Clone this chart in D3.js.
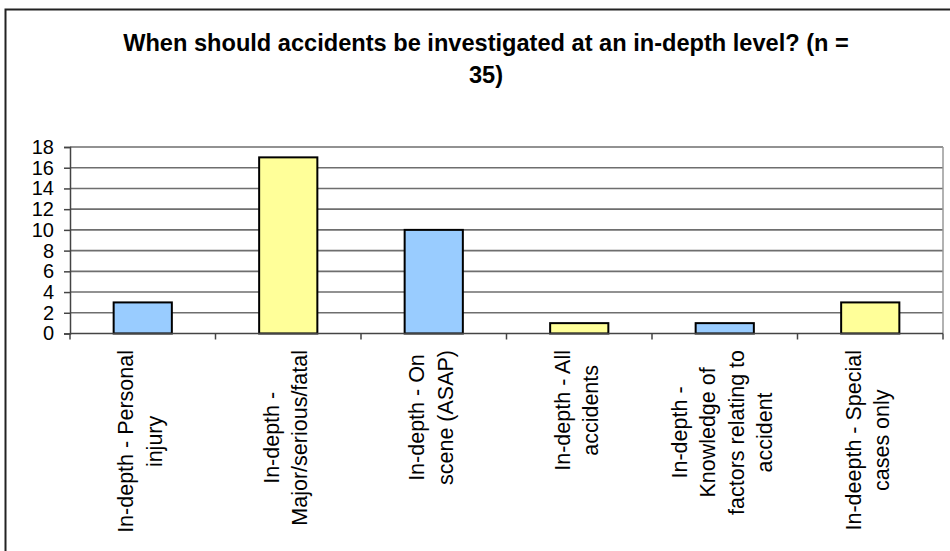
<!DOCTYPE html>
<html>
<head>
<meta charset="utf-8">
<script src="https://cdn.jsdelivr.net/npm/d3@7"></script>
<style>
  html, body { margin: 0; padding: 0; background: #fff; }
  svg { display: block; }
  text { font-family: Arial, "Liberation Sans", sans-serif; fill: #000; }
</style>
</head>
<body>
<svg id="chart" width="950" height="551"></svg>
<script>
// Survey responses: when accidents should be investigated in depth (n = 35)
const categories = [
  ["In-depth - Personal", "injury"],
  ["In-depth -", "Major/serious/fatal"],
  ["In-depth - On", "scene (ASAP)"],
  ["In-depth - All", "accidents"],
  ["In-depth -", "Knowledge of", "factors relating to", "accident"],
  ["In-deepth - Special", "cases only"]
];
const counts = [3, 17, 10, 1, 1, 3];
const barColors = ["#99CCFF", "#FFFF99", "#99CCFF", "#FFFF99", "#99CCFF", "#FFFF99"];
const yTicks = [0, 2, 4, 6, 8, 10, 12, 14, 16, 18];
const titleLines = ["When should accidents be investigated at an in-depth level? (n =", "35)"];

const svg = d3.select("#chart");

// chart area frame
svg.append("rect")
  .attr("x", 5.5).attr("y", 9.5)
  .attr("width", 980).attr("height", 580)
  .attr("fill", "#fff").attr("stroke", "#222").attr("stroke-width", 2);

const plot = { left: 70, right: 943, top: 147, bottom: 333.5 };

const x = d3.scaleBand()
  .domain(d3.range(categories.length))
  .range([plot.left, plot.right])
  .paddingInner(0.6).paddingOuter(0.3);

const band = d3.scaleBand()
  .domain(d3.range(categories.length))
  .range([plot.left, plot.right]);

const y = d3.scaleLinear().domain([0, 18]).range([plot.bottom, plot.top]);

// gridlines
svg.append("g")
  .selectAll("line")
  .data(yTicks.filter(d => d > 0))
  .join("line")
  .attr("x1", plot.left).attr("x2", plot.right)
  .attr("y1", d => y(d)).attr("y2", d => y(d))
  .attr("stroke", "#6e6e6e").attr("stroke-width", 1.6);

// plot area right edge
svg.append("line")
  .attr("x1", plot.right).attr("x2", plot.right)
  .attr("y1", plot.top).attr("y2", plot.bottom)
  .attr("stroke", "#999").attr("stroke-width", 1.5);

// bars
svg.append("g")
  .selectAll("rect")
  .data(counts)
  .join("rect")
  .attr("x", (d, i) => x(i))
  .attr("width", x.bandwidth())
  .attr("y", d => y(d))
  .attr("height", d => y(0) - y(d))
  .attr("fill", (d, i) => barColors[i])
  .attr("stroke", "#000").attr("stroke-width", 2);

// y axis
const yAxis = svg.append("g")
  .attr("transform", `translate(${plot.left},0)`)
  .call(d3.axisLeft(y).tickValues(yTicks).tickSize(6).tickPadding(10));
yAxis.select(".domain").attr("stroke", "#444").attr("stroke-width", 1.5);
yAxis.selectAll(".tick line").attr("stroke", "#444").attr("stroke-width", 1.5);
yAxis.selectAll(".tick text")
  .attr("font-size", 20).attr("font-family", "Arial, 'Liberation Sans', sans-serif")
  .attr("fill", "#000");

// x axis baseline and category boundary ticks
const xAxisG = svg.append("g");
xAxisG.append("line")
  .attr("x1", plot.left).attr("x2", plot.right)
  .attr("y1", plot.bottom).attr("y2", plot.bottom)
  .attr("stroke", "#444").attr("stroke-width", 1.5);
xAxisG.selectAll("line.tk")
  .data(d3.range(categories.length + 1))
  .join("line").attr("class", "tk")
  .attr("x1", i => i < categories.length ? band(i) : plot.right)
  .attr("x2", i => i < categories.length ? band(i) : plot.right)
  .attr("y1", plot.bottom).attr("y2", plot.bottom + 6)
  .attr("stroke", "#444").attr("stroke-width", 1.5);

// rotated category labels, lines centred on each other, top-aligned under the axis
const lineGap = 28.5;
const labelTop = 350;
categories.forEach((lines, i) => {
  const cx = band(i) + band.bandwidth() / 2;
  const g = svg.append("g");
  const texts = lines.map(ln => g.append("text")
    .attr("font-size", 21.5)
    .attr("text-anchor", "middle")
    .text(ln));
  const maxW = d3.max(texts, t => t.node().getComputedTextLength());
  const cy = labelTop + maxW / 2;
  const n = lines.length;
  texts.forEach((t, k) => {
    const off = (k - (n - 1) / 2) * lineGap;
    t.attr("transform", `translate(${cx + off + 4.5},${cy}) rotate(-90)`);
  });
});

// title
svg.append("g")
  .selectAll("text")
  .data(titleLines)
  .join("text")
  .attr("x", 486)
  .attr("y", (d, i) => 51 + i * 32)
  .attr("text-anchor", "middle")
  .attr("font-size", 23.6)
  .attr("font-weight", "bold")
  .text(d => d);
</script>
</body>
</html>
